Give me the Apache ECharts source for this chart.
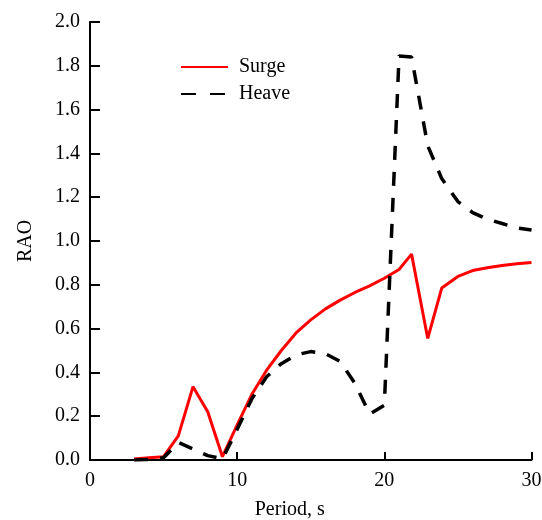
<!DOCTYPE html>
<html>
<head>
<meta charset="utf-8">
<style>
  html, body { margin: 0; padding: 0; background: #fff; }
  #chart { width: 542px; height: 520px; }
</style>
<script src="https://cdn.jsdelivr.net/npm/echarts@6/dist/echarts.min.js"></script>
</head>
<body>
<div id="chart"></div>
<script>
// Wave periods (s) at which the response amplitude operators were evaluated
const periods = [3, 4, 5, 6, 7, 8, 9, 10, 11, 12, 13, 14, 15, 16, 17, 18, 19, 20,
                 21, 21.85, 22.95, 23.9, 25, 26, 27, 28, 29, 30];

// Surge RAO
const surgeRao = [0.005, 0.01, 0.015, 0.11, 0.335, 0.22, 0.015, 0.16, 0.30, 0.41,
                  0.50, 0.58, 0.64, 0.69, 0.73, 0.765, 0.795, 0.83,
                  0.87, 0.94, 0.555, 0.785, 0.838, 0.865, 0.878, 0.888, 0.896, 0.902];

// Heave RAO
const heaveRao = [0.0, 0.002, 0.01, 0.08, 0.05, 0.02, 0.005, 0.14, 0.28, 0.38,
                  0.44, 0.48, 0.495, 0.485, 0.45, 0.35, 0.21, 0.25,
                  1.845, 1.84, 1.435, 1.285, 1.18, 1.13, 1.10, 1.08, 1.06, 1.05];

const xTicks = [0, 10, 20, 30];
const yTicks = [0, 0.2, 0.4, 0.6, 0.8, 1.0, 1.2, 1.4, 1.6, 1.8, 2.0];

const seriesNames = ['Surge', 'Heave'];
const xName = 'Period, s';
const yName = 'RAO';

const font = '"Liberation Serif", "Times New Roman", serif';
const fontSize = 20;

const pairs = (xs, ys) => xs.map((x, i) => [x, ys[i]]);

const chart = echarts.init(document.getElementById('chart'), null, { renderer: 'canvas' });

const axisLine = { show: true, onZero: false, lineStyle: { color: '#000', width: 2 } };
const labelStyle = { color: '#000', fontFamily: font, fontSize: fontSize };

chart.setOption({
  animation: false,
  backgroundColor: '#fff',
  grid: {
    left: 90, right: 10.5, top: 22, bottom: 60,
    containLabel: false,
    outerBoundsMode: 'none'
  },
  legend: {
    orient: 'vertical',
    left: 180,
    top: 57,
    padding: 0,
    itemWidth: 47,
    itemHeight: 2,
    itemGap: 7,
    itemStyle: { opacity: 0 },
    textStyle: { color: '#000', fontFamily: font, fontSize: fontSize, padding: [0, 0, 0, 6] },
    data: [
      { name: seriesNames[0] },
      { name: seriesNames[1], lineStyle: { type: [15, 14] } }
    ]
  },
  xAxis: {
    type: 'value',
    min: xTicks[0],
    max: xTicks[xTicks.length - 1],
    interval: 10,
    name: xName,
    nameLocation: 'middle',
    nameGap: 40,
    nameTextStyle: { ...labelStyle, padding: [0, 42, 0, 0] },
    axisLine: axisLine,
    axisTick: { show: true, inside: true, length: 8, lineStyle: { color: '#000', width: 2 } },
    splitLine: { show: false },
    axisLabel: { ...labelStyle, margin: 11, showMinLabel: true, showMaxLabel: true }
  },
  yAxis: {
    type: 'value',
    min: yTicks[0],
    max: yTicks[yTicks.length - 1],
    interval: 0.2,
    name: yName,
    nameLocation: 'middle',
    nameGap: 54,
    nameRotate: 90,
    nameTextStyle: labelStyle,
    axisLine: axisLine,
    axisTick: { show: true, inside: true, length: 10, lineStyle: { color: '#000', width: 2 } },
    splitLine: { show: false },
    axisLabel: { ...labelStyle, margin: 10, formatter: v => v.toFixed(1) }
  },
  series: [
    {
      name: seriesNames[0],
      type: 'line',
      data: pairs(periods, surgeRao),
      showSymbol: false,
      symbol: 'none',
      lineStyle: { color: '#ff0000', width: 3, type: 'solid' },
      itemStyle: { color: '#ff0000' },
      z: 2
    },
    {
      name: seriesNames[1],
      type: 'line',
      data: pairs(periods, heaveRao),
      showSymbol: false,
      symbol: 'none',
      lineStyle: { color: '#000', width: 3.5, type: [14, 12] },
      itemStyle: { color: '#000' },
      z: 3
    }
  ]
});
</script>
</body>
</html>
